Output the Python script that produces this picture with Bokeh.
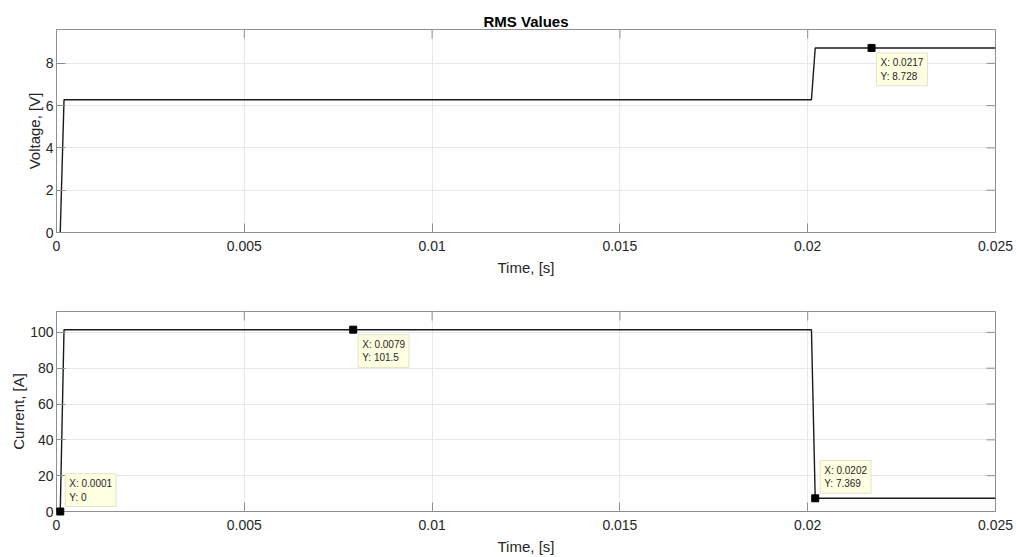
import math
from bokeh.plotting import figure
from bokeh.models import LinearAxis, FixedTicker, Label, Range1d, ColumnDataSource, Grid
from bokeh.layouts import column
from bokeh.embed import file_html
from bokeh.resources import INLINE

# ---- data ----
time_s = [0.0001, 0.0002, 0.0201, 0.0202, 0.025]
voltage_v = [0.0, 6.28, 6.28, 8.728, 8.728]
current_a = [0.0, 101.5, 101.5, 7.369, 7.369]

x_ticks = [0, 0.005, 0.01, 0.015, 0.02, 0.025]
x_tick_labels = ["0", "0.005", "0.01", "0.015", "0.02", "0.025"]
v_ticks = [0, 2, 4, 6, 8]
i_ticks = [0, 20, 40, 60, 80, 100]

# data tips: (x, y, placement of the box)
v_tip_x = [0.0217]
v_tip_y = [8.728]
v_tip_pos = ["below"]
i_tip_x = [0.0001, 0.0079, 0.0202]
i_tip_y = [0.0, 101.5, 7.369]
i_tip_pos = ["above", "below", "above"]

FONT = "Liberation Sans"
TXT = "#262626"
AX = "#8f8f8f"
GRID = "#e8e8e8"
TICK_LEN = 9


def style(p, yticks, ylabel):
    p.xaxis.visible = False
    p.yaxis.visible = False
    overrides = {t: l for t, l in zip(x_ticks, x_tick_labels)}
    for loc in ["below", "left"]:
        if loc == "below":
            ax = LinearAxis(ticker=FixedTicker(ticks=x_ticks))
            ax.major_label_overrides = overrides
            ax.axis_label = "Time, [s]"
            ax.major_label_standoff = 8
            ax.axis_label_standoff = 5
        else:
            ax = LinearAxis(ticker=FixedTicker(ticks=yticks))
            ax.axis_label = ylabel
            ax.major_label_standoff = 3
            ax.axis_label_standoff = 0
        ax.axis_line_color = AX
        ax.major_tick_line_color = AX
        ax.major_tick_in = TICK_LEN
        ax.major_tick_out = 0
        ax.minor_tick_line_color = None
        ax.major_label_text_font = FONT
        ax.major_label_text_color = TXT
        ax.major_label_text_font_size = "14px"
        ax.axis_label_text_font = FONT
        ax.axis_label_text_color = TXT
        ax.axis_label_text_font_style = "normal"
        ax.axis_label_text_font_size = "15px"
        p.add_layout(ax, loc)
    p.xgrid.visible = False
    p.ygrid.visible = False
    p.add_layout(Grid(dimension=0, ticker=FixedTicker(ticks=x_ticks), grid_line_color=GRID))
    p.add_layout(Grid(dimension=1, ticker=FixedTicker(ticks=yticks), grid_line_color=GRID))
    # inward ticks on the top and right edges of the box
    top = p.y_range.end
    right = p.x_range.end
    p.ray(x=x_ticks, y=[top] * len(x_ticks), length=TICK_LEN, length_units="screen",
          angle=-math.pi / 2, line_color=AX, line_width=1)
    p.ray(x=[right] * len(yticks), y=yticks, length=TICK_LEN, length_units="screen",
          angle=math.pi, line_color=AX, line_width=1)
    p.outline_line_color = AX
    p.background_fill_color = "white"
    p.border_fill_color = "white"


def add_tips(p, xs, ys, pos):
    src = ColumnDataSource(dict(x=xs, y=ys))
    p.scatter("x", "y", source=src, marker="square", size=7, color="black", level="overlay")
    for x, y, ps in zip(xs, ys, pos):
        txt = f"X: {x:g}\nY: {y:g}"
        p.add_layout(Label(
            x=x, y=y, x_offset=5, y_offset=(-5 if ps == "below" else 5),
            anchor=("top_left" if ps == "below" else "bottom_left"),
            text=txt, text_font=FONT, text_font_size="10px", text_color=TXT,
            text_line_height=1.25,
            background_fill_color="#FFFFE1", border_line_color="#e3e3c8",
            padding=4))


W = 1014
p1 = figure(width=W, height=290, output_backend="svg", toolbar_location=None,
            x_range=Range1d(0, 0.025), y_range=Range1d(0, 8.728 * 1.1),
            min_border_left=56, min_border_right=19, min_border_top=29, min_border_bottom=58)
p1.title.text = "RMS Values"
p1.title.align = "center"
p1.title.text_font = FONT
p1.title.text_font_size = "15px"
p1.title.text_font_style = "bold"
p1.title.text_color = "black"
p1.title.standoff = 0
p1.title.offset = 0
style(p1, v_ticks, "Voltage, [V]")
p1.line(time_s, voltage_v, line_color="#1a1a1a", line_width=1.4)
add_tips(p1, v_tip_x, v_tip_y, v_tip_pos)

p2 = figure(width=W, height=267, output_backend="svg", toolbar_location=None,
            x_range=Range1d(0, 0.025), y_range=Range1d(0, 101.5 * 1.1),
            min_border_left=56, min_border_right=19, min_border_top=21, min_border_bottom=44)
style(p2, i_ticks, "Current, [A]")
p2.line(time_s, current_a, line_color="#1a1a1a", line_width=1.4)
add_tips(p2, i_tip_x, i_tip_y, i_tip_pos)

layout = column(p1, p2, spacing=0)
open("out.html", "w").write(file_html(layout, INLINE))
